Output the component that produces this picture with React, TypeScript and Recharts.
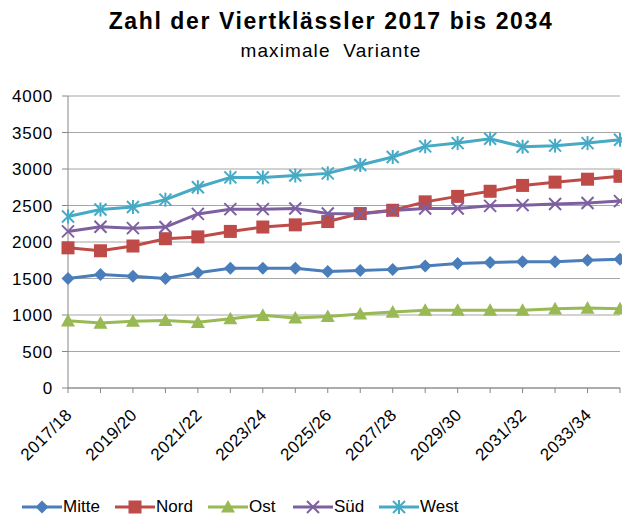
import React from 'react'
import { LineChart, Line, XAxis, YAxis, CartesianGrid, Legend } from 'recharts'

const categories = ['2017/18', '2018/19', '2019/20', '2020/21', '2021/22', '2022/23', '2023/24', '2024/25', '2025/26', '2026/27', '2027/28', '2028/29', '2029/30', '2030/31', '2031/32', '2032/33', '2033/34', '2034/35']
const mitte = [1500, 1555, 1530, 1500, 1580, 1640, 1640, 1640, 1595, 1610, 1625, 1670, 1705, 1720, 1730, 1730, 1750, 1765]
const nord = [1920, 1880, 1945, 2045, 2070, 2145, 2205, 2235, 2280, 2390, 2435, 2550, 2625, 2695, 2775, 2820, 2860, 2900]
const ost = [920, 890, 915, 925, 900, 950, 995, 960, 980, 1015, 1040, 1065, 1065, 1065, 1065, 1085, 1095, 1085]
const sued = [2145, 2210, 2190, 2205, 2385, 2450, 2450, 2460, 2390, 2385, 2430, 2460, 2460, 2495, 2505, 2520, 2535, 2560]
const west = [2350, 2445, 2480, 2580, 2750, 2885, 2885, 2910, 2940, 3055, 3165, 3310, 3355, 3415, 3305, 3320, 3355, 3400]
const yTicks = [0, 500, 1000, 1500, 2000, 2500, 3000, 3500, 4000]

const data = categories.map((c, i) => ({
    cat: c,
    Mitte: mitte[i],
    Nord: nord[i],
    Ost: ost[i],
    Süd: sued[i],
    West: west[i],
}))

const COLORS = {
    Mitte: '#4A7EBB',
    Nord: '#BE4B48',
    Ost: '#98B954',
    Süd: '#7D60A0',
    West: '#46AAC5',
}

type Shape = 'diamond' | 'square' | 'triangle' | 'x' | 'star'

function Marker({ cx, cy, shape, color }: { cx: number; cy: number; shape: Shape; color: string }) {
    if (cx == null || cy == null) return null
    if (shape === 'diamond') {
        const r = 6.5
        return <path d={`M${cx},${cy - r}L${cx + r},${cy}L${cx},${cy + r}L${cx - r},${cy}Z`} fill={color} />
    }
    if (shape === 'square') {
        const r = 6.5
        return <rect x={cx - r} y={cy - r} width={r * 2} height={r * 2} fill={color} />
    }
    if (shape === 'triangle') {
        const r = 7
        return <path d={`M${cx},${cy - r}L${cx + r},${cy + r * 0.8}L${cx - r},${cy + r * 0.8}Z`} fill={color} />
    }
    const r = 6
    return (
        <g stroke={color} strokeWidth={2}>
            <line x1={cx - r} y1={cy - r} x2={cx + r} y2={cy + r} />
            <line x1={cx - r} y1={cy + r} x2={cx + r} y2={cy - r} />
            {shape === 'star' && <line x1={cx} y1={cy - r - 1} x2={cx} y2={cy + r + 1} />}
        </g>
    )
}

const series: { key: keyof typeof COLORS; shape: Shape; left: number }[] = [
    { key: 'Mitte', shape: 'diamond', left: 22 },
    { key: 'Nord', shape: 'square', left: 115 },
    { key: 'Ost', shape: 'triangle', left: 208 },
    { key: 'Süd', shape: 'x', left: 293 },
    { key: 'West', shape: 'star', left: 379 },
]

// only every second category gets a label, but every category keeps its tick mark
function XTick(props: any) {
    const { x, y, payload, index } = props
    if (index % 2 !== 0) return null
    return (
        <g transform={`translate(${x + 5},${y + 21})`}>
            <text x={0} y={0} textAnchor="end" transform="rotate(-45)" fontSize={17} letterSpacing={0.4} fill="#000">
                {payload.value}
            </text>
        </g>
    )
}

function LegendContent() {
    return (
        <div style={{ position: 'relative', height: 20, fontSize: 17, color: '#000' }}>
            {series.map((s) => (
                <div key={s.key} style={{ position: 'absolute', left: s.left, top: 0, display: 'flex', alignItems: 'center' }}>
                    <svg width={40} height={18}>
                        <line x1={0} y1={9} x2={40} y2={9} stroke={COLORS[s.key]} strokeWidth={3} />
                        <Marker cx={20} cy={9} shape={s.shape} color={COLORS[s.key]} />
                    </svg>
                    <span style={{ marginLeft: 1 }}>{s.key}</span>
                </div>
            ))}
        </div>
    )
}

export default function App() {
    return (
        <div style={{ position: 'absolute', left: 0, top: 0, width: 622, height: 518, background: '#fff', fontFamily: '"Liberation Sans", Arial, sans-serif' }}>
            <div style={{ position: 'absolute', top: 8, left: 0, width: 662, textAlign: 'center', fontSize: 23, letterSpacing: 1.6, fontWeight: 'bold', color: '#000' }}>
                Zahl der Viertklässler 2017 bis 2034
            </div>
            <div style={{ position: 'absolute', top: 40, left: 0, width: 662, textAlign: 'center', fontSize: 19, letterSpacing: 1.1, color: '#000', whiteSpace: 'pre' }}>
                maximale  Variante
            </div>
            <LineChart width={622} height={518} data={data} margin={{ top: 96, right: 2, left: 0, bottom: 0 }}>
                <CartesianGrid vertical={false} stroke="#A6A6A6" strokeWidth={1.2} />
                <XAxis
                    dataKey="cat"
                    interval={0}
                    height={130}
                    tick={<XTick />}
                    tickLine={{ stroke: '#868686' }}
                    axisLine={{ stroke: '#868686' }}
                    tickSize={5}
                />
                <YAxis
                    domain={[0, 4000]}
                    ticks={yTicks}
                    width={68}
                    tickSize={6}
                    tickMargin={9}
                    tick={{ fill: '#000', fontSize: 17, letterSpacing: 0.8 }}
                    tickLine={{ stroke: '#868686' }}
                    axisLine={{ stroke: '#868686' }}
                />
                <Legend
                    verticalAlign="middle"
                    align="center"
                    layout="horizontal"
                    wrapperStyle={{ top: 497, left: 0, width: 622 }}
                    content={<LegendContent />}
                />
                {series.map((s) => (
                    <Line
                        key={s.key}
                        type="linear"
                        dataKey={s.key}
                        stroke={COLORS[s.key]}
                        strokeWidth={3}
                        isAnimationActive={false}
                        dot={(p: any) => <Marker key={`${s.key}-${p.index}`} cx={p.cx} cy={p.cy} shape={s.shape} color={COLORS[s.key]} />}
                        activeDot={false}
                    />
                ))}
            </LineChart>
        </div>
    )
}
